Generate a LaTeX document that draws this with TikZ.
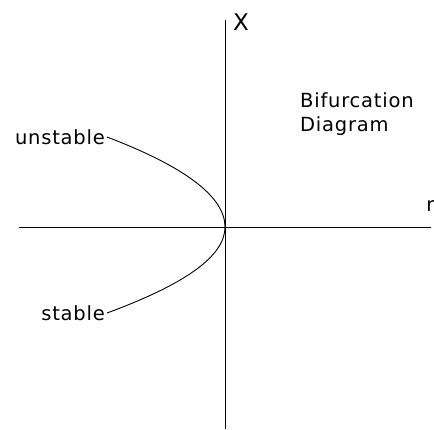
\documentclass[tikz,border=0pt]{standalone}
\usepackage{fontspec}
\newfontfamily\plotfont[LetterSpace=4]{DejaVu Sans}
\usetikzlibrary{arrows,positioning}
\tikzset{
  axis/.style={line width=0.8pt},
  branch/.style={line width=0.9pt},
  lbl/.style={font=\plotfont\fontsize{19.5}{24}\selectfont, inner sep=2pt}
}
\begin{document}
\begin{tikzpicture}[x=1pt,y=-1pt]
\useasboundingbox (0,0) rectangle (434,429);
%Axes
\coordinate (O) at (225,227);
\coordinate (rl) at (19,227);
\coordinate (rr) at (431,227);
\coordinate (xt) at (225,20);
\coordinate (xb) at (225,429);
\draw [axis] (rl) -- (rr);
\draw [axis] (xt) -- (xb);
\node [lbl, font=\plotfont\fontsize{23}{25}\selectfont] (xlab) at (241,22) {X};
\node [lbl] (rlab) at (430.5,206) {r};

%Title
\node [lbl, align=left, anchor=north west, inner sep=0pt] (title) at (300,92) {Bifurcation\\Diagram};

%Branches
\node [lbl, anchor=east] (unst) at (107,137) {unstable};
\node [lbl, anchor=east] (stab) at (107,313) {stable};
\draw [branch] (unst.east) .. controls +(78.7,30) and +(0,-30) .. (O)
  .. controls +(0,29) and +(78.7,-29) .. (stab.east);
\end{tikzpicture}
\end{document}
